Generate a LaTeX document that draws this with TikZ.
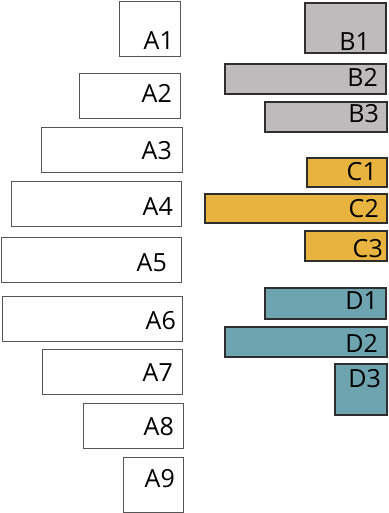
\documentclass[tikz,border=0pt]{standalone}
\usepackage{fontspec}
\setmainfont{Open Sans}
\definecolor{bgray}{HTML}{BEBBBC}
\definecolor{corange}{HTML}{E9B33F}
\definecolor{dteal}{HTML}{6EA3B0}
\definecolor{aedge}{HTML}{555555}
\definecolor{cedge}{HTML}{2E2E2E}
\tikzset{
  abox/.style={draw=aedge, line width=1.2pt, fill=white, inner sep=0, anchor=north west},
  cbox/.style={draw=cedge, line width=1.8pt, inner sep=0, anchor=north west},
  lbl/.style={inner sep=0, anchor=base east, font=\fontsize{25}{25}\selectfont, text=black}
}
\newcommand{\bx}[7]{% name, style, fill, x1, y1, x2, y2
  \node[#2, fill=#3, minimum width={(#6-#4)*1pt}, minimum height={(#7-#5)*1pt}] (#1) at (#4,#5) {};}
\begin{document}
\begin{tikzpicture}[x=1pt,y=-1pt]
\useasboundingbox (0,0) rectangle (388,513);
% A column
\bx{a1}{abox}{white}{119}{1}{180}{56}
\bx{a2}{abox}{white}{79}{73}{180}{118}
\bx{a3}{abox}{white}{41}{127}{182}{172}
\bx{a4}{abox}{white}{11}{181}{181}{226}
\bx{a5}{abox}{white}{1}{237}{181}{282}
\bx{a6}{abox}{white}{2}{296}{182}{341}
\bx{a7}{abox}{white}{42}{349}{182}{394}
\bx{a8}{abox}{white}{83}{403}{183}{448}
\bx{a9}{abox}{white}{123}{457}{183}{512}
\node[lbl] (ta1) at (174,50) {A1};
\node[lbl] (ta2) at (172,103) {A2};
\node[lbl] (ta3) at (172,160) {A3};
\node[lbl] (ta4) at (173,215) {A4};
\node[lbl] (ta5) at (167,271) {A5};
\node[lbl] (ta6) at (176,329) {A6};
\node[lbl] (ta7) at (173,381) {A7};
\node[lbl] (ta8) at (174,435) {A8};
\node[lbl] (ta9) at (175,487) {A9};
% B group
\bx{b1}{cbox}{bgray}{304}{2}{385}{52}
\bx{b2}{cbox}{bgray}{224}{63}{385}{93}
\bx{b3}{cbox}{bgray}{264}{101}{386}{131}
% C group
\bx{c1}{cbox}{corange}{306}{157}{386}{186}
\bx{c2}{cbox}{corange}{204}{193}{386}{222}
\bx{c3}{cbox}{corange}{304}{230}{386}{260}
% D group
\bx{d1}{cbox}{dteal}{264}{287}{385}{318}
\bx{d2}{cbox}{dteal}{224}{326}{386}{356}
\bx{d3}{cbox}{dteal}{334}{363}{386}{414}
\node[lbl] (tb1) at (370,51) {B1};
\node[lbl] (tb2) at (378,87) {B2};
\node[lbl] (tb3) at (379,123) {B3};
\node[lbl] (tc1) at (377,180) {C1};
\node[lbl] (tc2) at (379,217) {C2};
\node[lbl] (tc3) at (383,257) {C3};
\node[lbl] (td1) at (378,309) {D1};
\node[lbl] (td2) at (378,352) {D2};
\node[lbl] (td3) at (381,387) {D3};
\end{tikzpicture}
\end{document}
